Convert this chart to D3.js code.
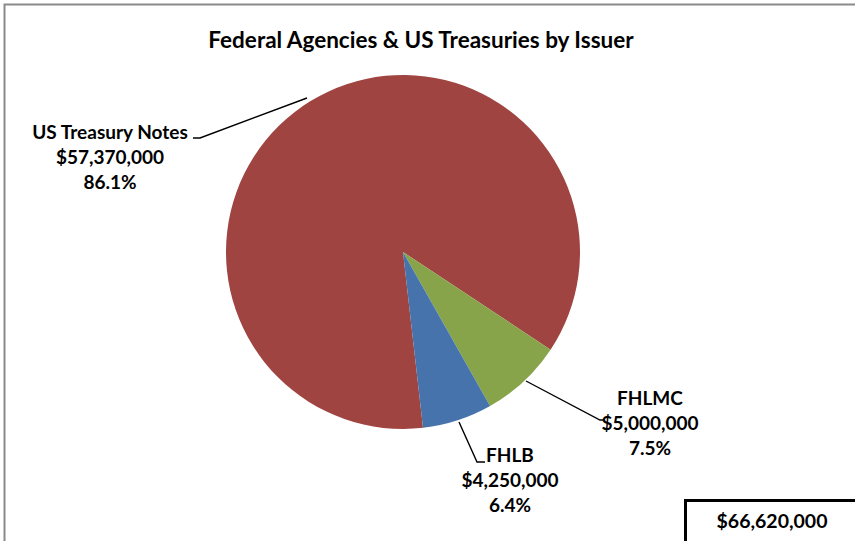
<!DOCTYPE html>
<html>
<head>
<meta charset="utf-8">
<script src="https://cdn.jsdelivr.net/npm/d3@7"></script>
<style>
  body { margin: 0; background: #fff; }
  text { font-family: Lato, "Open Sans", sans-serif; font-weight: bold; fill: #000; }
</style>
</head>
<body>
<svg id="chart" width="855" height="541"></svg>
<script>
var issuers = ["US Treasury Notes", "FHLMC", "FHLB"];
var amounts = [57370000, 5000000, 4250000];
var colors = ["#A04441", "#88A44B", "#4773AC"];
var totalLabel = "$66,620,000";

var svg = d3.select("#chart");

// chart frame
svg.append("path")
  .attr("d", "M4.5,541 V4.5 H855")
  .attr("fill", "none")
  .attr("stroke", "#8a8a8a")
  .attr("stroke-width", 2);

svg.append("text")
  .attr("x", 421)
  .attr("y", 48)
  .attr("text-anchor", "middle")
  .style("font-size", "22.5px")
  .text("Federal Agencies & US Treasuries by Issuer");

var cx = 403, cy = 252, r = 177;
var start = 173.5 * Math.PI / 180;

var pie = d3.pie().sort(null)
  .startAngle(start)
  .endAngle(start + 2 * Math.PI);

var arcs = pie(amounts);
var arc = d3.arc().innerRadius(0).outerRadius(r);

var g = svg.append("g").attr("transform", `translate(${cx}, ${cy})`);

g.selectAll("path.slice")
  .data(arcs)
  .enter().append("path")
  .attr("class", "slice")
  .attr("d", arc)
  .attr("fill", function(d, i) { return colors[i]; });

var total = d3.sum(amounts);
var money = d3.format("$,");
var pct = d3.format(".1%");

// label placement (centre x, first baseline y) and leader lines
var labelPos = [
  { x: 110, y: 139, line: [[-96, -154], [-203, -114], [-210, -114]] },
  { x: 650, y: 405, line: [[123, 129], [197, 168], [202, 168]] },
  { x: 510, y: 462, line: [[56, 170], [74, 210], [82, 210]] }
];

arcs.forEach(function(d, i) {
  var p = labelPos[i];
  var txt = svg.append("text")
    .attr("text-anchor", "middle")
    .style("font-size", "19px");
  [issuers[i], money(amounts[i]), pct(amounts[i] / total)].forEach(function(s, k) {
    txt.append("tspan")
      .attr("x", p.x)
      .attr("y", p.y + k * 25)
      .text(s);
  });
  g.append("path")
    .attr("d", d3.line()(p.line))
    .attr("fill", "none")
    .attr("stroke", "#000")
    .attr("stroke-width", 1.4);
});

// total box
svg.append("rect")
  .attr("x", 685.5)
  .attr("y", 500.5)
  .attr("width", 180)
  .attr("height", 60)
  .attr("fill", "#fff")
  .attr("stroke", "#000")
  .attr("stroke-width", 3);

svg.append("text")
  .attr("x", 772)
  .attr("y", 528)
  .attr("text-anchor", "middle")
  .style("font-size", "19.5px")
  .text(totalLabel);
</script>
</body>
</html>
